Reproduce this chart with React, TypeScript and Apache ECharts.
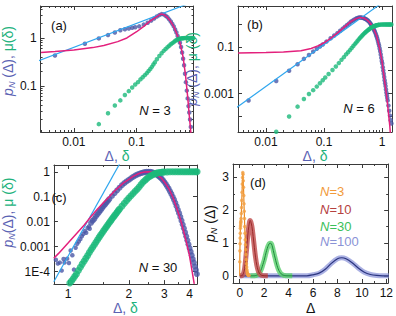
import React, { useEffect, useRef } from 'react';
import * as echarts from 'echarts';

const FONT = '"Liberation Sans", Arial, Helvetica, sans-serif';
const BLUE_DOT = '#4b57a6';
const SKY = '#2ea6ee';
const PINK = '#e3207c';
const GREEN = '#1bb97a';
const TITLE_BLUE = '#5a62b3';
const TITLE_GREEN = '#22b27c';
const AXIS = '#3a3a3a';

// ---------- panel (a): N = 3 ----------
const aBlue = [[0.005,0.43],[0.015,0.76],[0.025,0.98],[0.035,1.15],[0.045,1.3],[0.055,1.45],[0.065,1.52],[0.075,1.58],[0.085,1.63],[0.095,1.67],[0.11,1.75],[0.13,1.9],[0.15,2.08],[0.17,2.3],[0.19,2.55],[0.21,2.8],[0.23,3.0],[0.25,3.15],[0.27,3.1],[0.29,2.9],[0.31,2.7],[0.33,2.45],[0.35,2.2],[0.37,1.97],[0.39,1.75],[0.41,1.5],[0.43,1.3],[0.45,1.1],[0.47,0.95],[0.49,0.8],[0.51,0.65],[0.53,0.5],[0.55,0.37],[0.57,0.27],[0.59,0.18],[0.61,0.12],[0.63,0.08],[0.65,0.055],[0.67,0.038],[0.69,0.028],[0.71,0.02],[0.73,0.014],[0.75,0.01]];
const aPink = [[0.003,0.5],[0.005,0.52],[0.01,0.56],[0.02,0.63],[0.03,0.7],[0.05,0.84],[0.07,1.0],[0.1,1.35],[0.13,1.75],[0.16,2.2],[0.2,2.7],[0.23,3.05],[0.25,3.15],[0.27,3.08],[0.3,2.8],[0.35,2.2],[0.4,1.62],[0.45,1.1],[0.5,0.72],[0.55,0.4],[0.6,0.17],[0.65,0.06],[0.68,0.03],[0.71,0.016],[0.74,0.009],[0.76,0.006]];
const aLine = [[0.0025,0.32],[0.8,5.7]];
const aGreen = [[0.025,0.016],[0.035,0.027],[0.045,0.039],[0.055,0.05],[0.065,0.065],[0.075,0.078],[0.085,0.093],[0.095,0.107],[0.105,0.12],[0.115,0.137],[0.125,0.152],[0.135,0.168],[0.145,0.185],[0.155,0.205],[0.165,0.225],[0.175,0.25],[0.185,0.28],[0.195,0.31],[0.21,0.36],[0.23,0.42],[0.25,0.48],[0.27,0.54],[0.29,0.59],[0.31,0.64],[0.33,0.69],[0.35,0.74],[0.37,0.78],[0.39,0.82],[0.41,0.87],[0.43,0.9],[0.45,0.93],[0.47,0.95],[0.49,0.965],[0.51,0.975],[0.53,0.985],[0.55,0.99],[0.57,0.995],[0.6,1],[0.63,1],[0.66,1],[0.69,1],[0.72,1],[0.75,1],[0.78,1],[0.8,1]];

// ---------- panel (b): N = 6 ----------
const bBlue = [[0.005,5e-4],[0.015,3.5e-3],[0.025,9.8e-3],[0.035,0.0186],[0.045,0.032],[0.055,0.047],[0.065,0.066],[0.075,0.088],[0.085,0.11],[0.095,0.135],[0.11,0.18],[0.13,0.25],[0.15,0.33],[0.17,0.42],[0.19,0.53],[0.21,0.66],[0.23,0.8],[0.25,0.95],[0.27,1.1],[0.29,1.3],[0.31,1.45],[0.33,1.6],[0.35,1.75],[0.37,1.87],[0.39,1.95],[0.41,2.0],[0.43,2.0],[0.45,1.97],[0.47,1.92],[0.49,1.85],[0.51,1.77],[0.53,1.68],[0.55,1.58],[0.57,1.47],[0.59,1.35],[0.61,1.23],[0.63,1.1],[0.65,0.98],[0.67,0.87],[0.69,0.76],[0.71,0.66],[0.73,0.57],[0.75,0.49],[0.77,0.42],[0.79,0.35],[0.81,0.29],[0.83,0.24],[0.85,0.19],[0.87,0.15],[0.89,0.12],[0.91,0.09],[0.93,0.068],[0.95,0.05],[0.97,0.036],[0.99,0.026],[1.01,0.02],[1.03,0.014],[1.05,0.01],[1.07,0.0072],[1.09,0.0052],[1.11,0.0038],[1.13,0.0028],[1.15,0.0021],[1.17,0.0015],[1.19,0.0011],[1.21,8.5e-4],[1.23,6.5e-4],[1.25,5e-4],[1.29,3e-4],[1.33,1.8e-4],[1.37,1.1e-4],[1.41,7e-5],[1.45,5e-5]];
const bPink = [[0.0033,0.058],[0.01,0.06],[0.02,0.063],[0.04,0.072],[0.06,0.09],[0.08,0.12],[0.1,0.16],[0.13,0.25],[0.17,0.42],[0.22,0.75],[0.28,1.25],[0.34,1.7],[0.41,2.0],[0.48,1.9],[0.55,1.58],[0.62,1.18],[0.7,0.75],[0.8,0.34],[0.9,0.1],[1.0,0.025],[1.1,4e-3],[1.2,8e-4],[1.3,1.2e-4],[1.36,4e-5],[1.4,1.5e-5]];
const bLine = [[0.003,2.3e-4],[1.0,8.7]];
const bGreen = [[0.015,2.2e-5],[0.025,1e-4],[0.035,2.7e-4],[0.045,5.8e-4],[0.055,9.5e-4],[0.065,1.4e-3],[0.075,2e-3],[0.085,2.8e-3],[0.095,3.8e-3],[0.105,5e-3],[0.12,7e-3],[0.14,0.0105],[0.16,0.015],[0.18,0.021],[0.2,0.029],[0.22,0.038],[0.24,0.05],[0.26,0.062],[0.28,0.077],[0.3,0.095],[0.32,0.115],[0.34,0.14],[0.36,0.165],[0.38,0.195],[0.4,0.23],[0.42,0.265],[0.44,0.3],[0.46,0.34],[0.48,0.38],[0.5,0.42],[0.52,0.46],[0.54,0.5],[0.56,0.54],[0.58,0.58],[0.6,0.62],[0.62,0.66],[0.64,0.7],[0.66,0.73],[0.68,0.76],[0.7,0.79],[0.72,0.82],[0.74,0.85],[0.76,0.87],[0.78,0.89],[0.8,0.91],[0.82,0.93],[0.84,0.94],[0.86,0.95],[0.88,0.96],[0.9,0.97],[0.95,0.985],[1.0,0.993],[1.05,0.997],[1.1,1],[1.15,1],[1.2,1],[1.25,1],[1.3,1],[1.35,1],[1.4,1],[1.45,1]];

// ---------- panel (c): N = 30 ----------
const cBlueSparse = [[0.87,3.0e-4],[0.89,2.1e-4],[0.91,2.3e-4],[0.93,1.1e-4],[0.95,3.2e-4],[0.96,2.3e-4],[0.99,3.3e-4],[1.01,2.2e-4],[1.03,7e-4],[1.05,4.5e-4],[1.07,1.2e-4],[1.09,9e-4],[1.11,1.3e-3],[1.13,1.6e-3],[1.15,2e-3],[1.17,2.6e-3],[1.19,3.2e-3],[1.21,4.2e-3],[1.23,3.6e-3],[1.25,5.6e-3],[1.27,6.5e-3],[1.28,5.2e-3]];
const cBlueDense = [[1.3,0.009],[1.325,0.011],[1.35,0.013],[1.375,0.0165],[1.4,0.02],[1.425,0.024],[1.45,0.029],[1.475,0.035],[1.5,0.042],[1.525,0.049],[1.55,0.058],[1.575,0.068],[1.6,0.08],[1.65,0.107],[1.7,0.14],[1.75,0.18],[1.8,0.23],[1.85,0.29],[1.9,0.35],[1.95,0.41],[2.0,0.47],[2.05,0.545],[2.1,0.62],[2.15,0.7],[2.2,0.77],[2.25,0.83],[2.3,0.89],[2.35,0.93],[2.4,0.97],[2.45,0.99],[2.5,1.0],[2.55,0.99],[2.6,0.97],[2.65,0.92],[2.7,0.85],[2.75,0.77],[2.8,0.69],[2.85,0.61],[2.9,0.54],[2.95,0.46],[3.0,0.39],[3.05,0.32],[3.1,0.26],[3.15,0.21],[3.2,0.165],[3.25,0.13],[3.3,0.1],[3.35,0.076],[3.4,0.057],[3.45,0.042],[3.5,0.03],[3.55,0.022],[3.6,0.0155],[3.65,0.011],[3.7,0.0077],[3.75,0.0054],[3.8,0.0037],[3.85,0.0026],[3.9,0.0018],[3.95,0.00125],[4.0,8.8e-4],[4.05,6.3e-4],[4.1,4.5e-4],[4.15,3.2e-4],[4.2,2.3e-4],[4.25,1.6e-4],[4.3,1.15e-4],[4.35,8e-5]];
const cPink = [[0.85,3.4e-4],[0.9,5.5e-4],[1.0,1.4e-3],[1.1,3.3e-3],[1.2,7.2e-3],[1.3,0.016],[1.4,0.032],[1.5,0.059],[1.6,0.1],[1.7,0.17],[1.8,0.26],[1.9,0.38],[2.0,0.5],[2.1,0.65],[2.2,0.79],[2.3,0.91],[2.4,0.98],[2.48,1.0],[2.6,0.98],[2.7,0.85],[2.9,0.56],[3.05,0.33],[3.17,0.2],[3.3,0.1],[3.45,0.037],[3.55,0.018],[3.65,0.0089],[3.8,0.0025],[3.9,1.05e-3],[3.98,5.2e-4],[4.1,1.3e-4],[4.22,3.2e-5]];
const cLine = [[0.85,3.9e-5],[1.8,2.06]];
const cGreen = [[1.02,3.5e-5],[1.04,4.2e-5],[1.06,5.2e-5],[1.08,6.5e-5],[1.1,8e-5],[1.125,1.1e-4],[1.15,1.5e-4],[1.175,2e-4],[1.2,2.6e-4],[1.225,3.4e-4],[1.25,4.4e-4],[1.275,5.8e-4],[1.3,7.5e-4],[1.325,9.5e-4],[1.35,1.2e-3],[1.375,1.5e-3],[1.4,1.9e-3],[1.425,2.35e-3],[1.45,2.9e-3],[1.475,3.55e-3],[1.5,4.3e-3],[1.525,5.2e-3],[1.55,6.3e-3],[1.575,7.6e-3],[1.6,9e-3],[1.625,0.0107],[1.65,0.0127],[1.675,0.015],[1.7,0.0175],[1.725,0.0205],[1.75,0.024],[1.775,0.028],[1.8,0.032],[1.85,0.042],[1.9,0.055],[1.95,0.07],[2.0,0.088],[2.05,0.11],[2.1,0.135],[2.15,0.165],[2.2,0.2],[2.25,0.245],[2.3,0.31],[2.35,0.38],[2.4,0.45],[2.45,0.52],[2.5,0.6],[2.55,0.67],[2.6,0.73],[2.65,0.79],[2.7,0.84],[2.75,0.88],[2.8,0.91],[2.85,0.935],[2.9,0.955],[2.95,0.97],[3.0,0.98],[3.1,0.99],[3.2,1],[3.3,1],[3.4,1],[3.5,1],[3.6,1],[3.7,1],[3.8,1],[3.9,1],[4.0,1],[4.1,1],[4.2,1],[4.3,1],[4.36,1]];

// ---------- panel (d): linear scale ----------
const dRed = [[0,0],[0.2,0.01],[0.3,0.06],[0.4,0.22],[0.5,0.55],[0.6,0.98],[0.7,1.38],[0.8,1.64],[0.85,1.69],[0.9,1.66],[1.0,1.5],[1.1,1.2],[1.2,0.86],[1.3,0.55],[1.4,0.32],[1.5,0.17],[1.6,0.08],[1.7,0.035],[1.8,0.014],[2.0,0.002],[2.3,0]];
const dBlue = [[0,0],[5.5,0],[6.0,0.03],[6.5,0.08],[7.0,0.2],[7.5,0.38],[8.0,0.52],[8.35,0.55],[8.7,0.52],[9.2,0.4],[9.7,0.24],[10.2,0.11],[10.7,0.04],[11.2,0.01],[11.7,0],[12.2,0]];
const dOrigin = [[0, 0]];
const dOrange = aBlue;
const dGreen = [...cBlueSparse, ...cBlueDense];

// ---------- ticks ----------
const aXTickValues = [0.01, 0.1];
const aXTickLabels = ['0.01', '0.1'];
const aYTickValues = [0.1, 1];
const aYTickLabels = ['0.1', '1'];
const bXTickValues = [0.01, 0.1, 1];
const bXTickLabels = ['0.01', '0.1', '1'];
const bYMajor = [1e-4, 1e-3, 0.01, 0.1, 1];
const bYTickValues = [0.001, 0.1];
const bYTickLabels = ['0.001', '0.1'];
const cXTickValues = [1, 2, 3, 4];
const cXTickLabels = ['1', '2', '3', '4'];
const cXMinor = [1.5, 2.5, 3.5];
const cYTickValues = [1e-4, 1e-3, 0.01, 0.1, 1];
const cYTickLabels = ['1E-4', '0.001', '0.01', '0.1', '1'];
const dXTickValues = [0, 2, 4, 6, 8, 10, 12];
const dXTickLabels = ['0', '2', '4', '6', '8', '10', '12'];
const dXMinor = [1, 3, 5, 7, 9, 11];
const dYTickValues = [0, 1, 2, 3];
const dYTickLabels = ['0', '1', '2', '3'];
const dYMinor = [0.5, 1.5, 2.5];

const lg = (pts: number[][]) => pts.map(([x, y]) => [Math.log10(x), Math.log10(y)]);
const lgv = (v: number[]) => v.map((t) => Math.log10(t));

function minorLog(lo: number, hi: number): number[] {
  const out: number[] = [];
  for (let e = Math.floor(lo) - 1; e <= Math.ceil(hi); e++) {
    for (let k = 2; k <= 9; k++) {
      const v = e + Math.log10(k);
      if (v > lo && v < hi) out.push(v);
    }
  }
  return out;
}

type AxisSpec = {
  min: number;
  max: number;
  major: number[];
  minor: number[];
  labelValues: number[];
  labelTexts: string[];
  name?: string;
  nameGap?: number;
  namePad?: number[];
};

const nameRich = {
  p: { fontStyle: 'italic', color: TITLE_BLUE, fontSize: 14, fontFamily: FONT, lineHeight: 16 },
  s: { fontStyle: 'italic', color: TITLE_BLUE, fontSize: 9, fontFamily: FONT, lineHeight: 9, verticalAlign: 'bottom' },
  b: { color: TITLE_BLUE, fontSize: 14, fontFamily: FONT, lineHeight: 16 },
  g: { color: TITLE_GREEN, fontSize: 14, fontFamily: FONT, lineHeight: 16 },
  k: { color: '#111', fontSize: 14, fontFamily: FONT, lineHeight: 16 },
  pk: { fontStyle: 'italic', color: '#111', fontSize: 14, fontFamily: FONT, lineHeight: 16 },
  sk: { fontStyle: 'italic', color: '#111', fontSize: 9, fontFamily: FONT, lineHeight: 9, verticalAlign: 'bottom' },
};

function buildAxes(dim: 'x' | 'y', grid: number, s: AxisSpec) {
  const pos = dim === 'x' ? ['bottom', 'top'] : ['left', 'right'];
  const fmt = (v: number) => {
    let best = 0;
    let bd = Infinity;
    s.labelValues.forEach((lv, i) => {
      const d = Math.abs(lv - v);
      if (d < bd) { bd = d; best = i; }
    });
    return s.labelTexts[best];
  };
  const make = (position: string, ticks: number[], len: number, withLine: boolean, withLabel: boolean) => {
    const ax: any = {
      type: 'value',
      gridIndex: grid,
      position,
      min: s.min,
      max: s.max,
      axisLine: { show: withLine, onZero: false, lineStyle: { color: AXIS, width: 1 } },
      axisTick: ticks.length
        ? { show: true, inside: true, length: len, customValues: ticks, lineStyle: { color: AXIS, width: 1 } }
        : { show: false },
      axisLabel: withLabel
        ? { show: true, customValues: s.labelValues, formatter: fmt, margin: 4, fontSize: 12, fontFamily: FONT, color: '#111' }
        : { show: false },
      splitLine: { show: false },
    };
    if (withLabel && s.name) {
      ax.name = s.name;
      ax.nameLocation = 'middle';
      ax.nameGap = s.nameGap;
      ax.nameTextStyle = { fontSize: 14, fontFamily: FONT, rich: nameRich, padding: s.namePad || 0 };
    }
    return ax;
  };
  return [
    make(pos[0], s.major, 4, true, true),
    make(pos[0], s.minor, 2, false, false),
    make(pos[1], s.major, 4, true, false),
    make(pos[1], s.minor, 2, false, false),
  ];
}

const yTitle = '{p|p}{s|N}{b| (Δ), }{g|μ(δ)}';
const xTitle = '{b|Δ, }{g|δ}';

const ranges = {
  a: { x: [-2.53, -0.094], y: [-1.96, 0.667] },
  b: { x: [-2.483, 0.172], y: [-4.67, 0.8] },
  c: { x: [-0.07, 0.639], y: [-4.5, 0.271] },
  d: { x: [-0.55, 12.15], y: [-0.22, 3.41] },
};

function buildOption() {
  const xAxes: any[] = [];
  const yAxes: any[] = [];
  // (a)
  xAxes.push(...buildAxes('x', 0, {
    min: ranges.a.x[0], max: ranges.a.x[1], major: lgv(aXTickValues), minor: minorLog(ranges.a.x[0], ranges.a.x[1]),
    labelValues: lgv(aXTickValues), labelTexts: aXTickLabels, name: xTitle, nameGap: 14,
  }));
  yAxes.push(...buildAxes('y', 0, {
    min: ranges.a.y[0], max: ranges.a.y[1], major: lgv(aYTickValues), minor: minorLog(ranges.a.y[0], ranges.a.y[1]),
    labelValues: lgv(aYTickValues), labelTexts: aYTickLabels, name: yTitle, nameGap: 17, namePad: [0, 0, 0, 16],
  }));
  // (b)
  xAxes.push(...buildAxes('x', 1, {
    min: ranges.b.x[0], max: ranges.b.x[1], major: lgv(bXTickValues), minor: minorLog(ranges.b.x[0], ranges.b.x[1]),
    labelValues: lgv(bXTickValues), labelTexts: bXTickLabels, name: xTitle, nameGap: 14,
  }));
  yAxes.push(...buildAxes('y', 1, {
    min: ranges.b.y[0], max: ranges.b.y[1], major: lgv(bYMajor), minor: [],
    labelValues: lgv(bYTickValues), labelTexts: bYTickLabels, name: '{p|p}{s|N}{b| (Δ), }{g|μ (δ)}', nameGap: 19,
  }));
  // (c)
  xAxes.push(...buildAxes('x', 2, {
    min: ranges.c.x[0], max: ranges.c.x[1], major: lgv(cXTickValues), minor: lgv(cXMinor),
    labelValues: lgv(cXTickValues), labelTexts: cXTickLabels, name: xTitle, nameGap: 14,
  }));
  yAxes.push(...buildAxes('y', 2, {
    min: ranges.c.y[0], max: ranges.c.y[1], major: lgv(cYTickValues), minor: [],
    labelValues: lgv(cYTickValues), labelTexts: cYTickLabels, name: '{p|p}{s|N}{b|(Δ), }{g|μ (δ)}', nameGap: 20, namePad: [0, 0, 0, 24],
  }));
  // (d)
  xAxes.push(...buildAxes('x', 3, {
    min: ranges.d.x[0], max: ranges.d.x[1], major: dXTickValues, minor: dXMinor,
    labelValues: dXTickValues, labelTexts: dXTickLabels, name: '{k|Δ}', nameGap: 17,
  }));
  yAxes.push(...buildAxes('y', 3, {
    min: ranges.d.y[0], max: ranges.d.y[1], major: dYTickValues, minor: dYMinor,
    labelValues: dYTickValues, labelTexts: dYTickLabels, name: '{pk|p}{sk|N}{k| (Δ)}', nameGap: 14,
  }));

  const ax = (g: number) => ({ xAxisIndex: 4 * g, yAxisIndex: 4 * g });
  const dots = (g: number, data: number[][], color: string, size: number, z: number) => ({
    type: 'scatter', ...ax(g), data, symbolSize: size, itemStyle: { color }, z, silent: true,
  });
  const curve = (g: number, data: number[][], color: string, width: number, z: number, extra: any = {}) => ({
    type: 'line', ...ax(g), data, symbol: 'none', showSymbol: false, lineStyle: { color, width, ...(extra.lineStyle || {}) }, z, silent: true,
    ...(extra.smooth ? { smooth: extra.smooth } : {}),
  });

  const series: any[] = [
    // (a)
    dots(0, lg(aBlue), BLUE_DOT, 4.5, 2),
    curve(0, lg(aLine), SKY, 1.2, 3),
    curve(0, lg(aPink), PINK, 1.5, 4),
    dots(0, lg(aGreen), GREEN, 4.5, 5),
    // (b)
    dots(1, lg(bBlue), BLUE_DOT, 4.5, 2),
    curve(1, lg(bLine), SKY, 1.2, 3),
    curve(1, lg(bPink), PINK, 1.5, 4),
    dots(1, lg(bGreen), GREEN, 4.5, 5),
    // (c)
    dots(2, lg(cBlueSparse), BLUE_DOT, 4.5, 2),
    dots(2, lg(cBlueDense), BLUE_DOT, 6, 2),
    curve(2, lg(cLine), SKY, 1.2, 3),
    curve(2, lg(cPink), PINK, 1.5, 4),
    dots(2, lg(cGreen), GREEN, 7, 5),
    // (d)
    curve(3, dBlue, '#8f97da', 5, 2, { smooth: 0.3, lineStyle: { opacity: 0.75 } }),
    curve(3, dBlue, '#2b3580', 1.2, 3, { smooth: 0.3 }),
    curve(3, dGreen, '#62d174', 5, 4, { smooth: 0.3, lineStyle: { opacity: 0.85 } }),
    curve(3, dGreen, '#1d8a3c', 1, 5, { smooth: 0.3 }),
    curve(3, dRed, '#c25454', 5, 6, { smooth: 0.3, lineStyle: { opacity: 0.85 } }),
    curve(3, dRed, '#9a2a2a', 1, 7, { smooth: 0.3 }),
    curve(3, [...dOrigin, ...dOrange], '#ea8a22', 1.2, 8, { smooth: 0.3 }),
    dots(3, dOrange, '#f3a044', 3.5, 9),
  ];

  const txt = (x: number, y: number, text: string, rich: any = undefined, align = 'center', fill = '#111') => ({
    type: 'text', x, y, silent: true, z: 100,
    style: {
      text, fill, fontSize: 13, fontFamily: FONT, rich,
      align, verticalAlign: 'middle', textAlign: align, textVerticalAlign: 'middle',
    },
  });
  const italN = (color: string) => ({ i: { fontStyle: 'italic', fill: color, color, fontSize: 13, fontFamily: FONT }, r: { fill: color, color, fontSize: 13, fontFamily: FONT } });

  const graphic = [
    txt(59, 25, '(a)'),
    txt(255, 24, '(b)'),
    txt(59, 197, '(c)'),
    txt(258, 182, '(d)'),
    txt(155, 110, '{i|N}{r| = 3}', italN('#111')),
    txt(359, 108, '{i|N}{r| = 6}', italN('#111')),
    txt(158, 267, '{i|N}{r| = 30}', italN('#111')),
    txt(320, 191, '{i|N}{r|=3}', italN('#f29a3a'), 'left', '#f29a3a'),
    txt(320, 209, '{i|N}{r|=10}', italN('#b5423f'), 'left', '#b5423f'),
    txt(320, 226, '{i|N}{r|=30}', italN('#3cc05a'), 'left', '#3cc05a'),
    txt(320, 241, '{i|N}{r|=100}', italN('#8a93d6'), 'left', '#8a93d6'),
  ];

  return {
    animation: false,
    backgroundColor: '#ffffff',
    textStyle: { fontFamily: FONT },
    grid: [
      { left: 38, top: 6, width: 155.5, height: 126 },
      { left: 238, top: 6, width: 154, height: 126 },
      { left: 41, top: 165, width: 156, height: 123 },
      { left: 233, top: 164, width: 156, height: 125 },
    ],
    xAxis: xAxes,
    yAxis: yAxes,
    series,
    graphic,
  };
}

export default function App() {
  const ref = useRef<HTMLDivElement>(null);
  useEffect(() => {
    if (!ref.current) return;
    const chart = echarts.init(ref.current, undefined, { renderer: 'svg' });
    chart.setOption(buildOption() as any);
    return () => chart.dispose();
  }, []);
  return (
    <div
      ref={ref}
      style={{ position: 'fixed', left: 0, top: 0, width: 396, height: 316, background: '#fff' }}
    />
  );
}
